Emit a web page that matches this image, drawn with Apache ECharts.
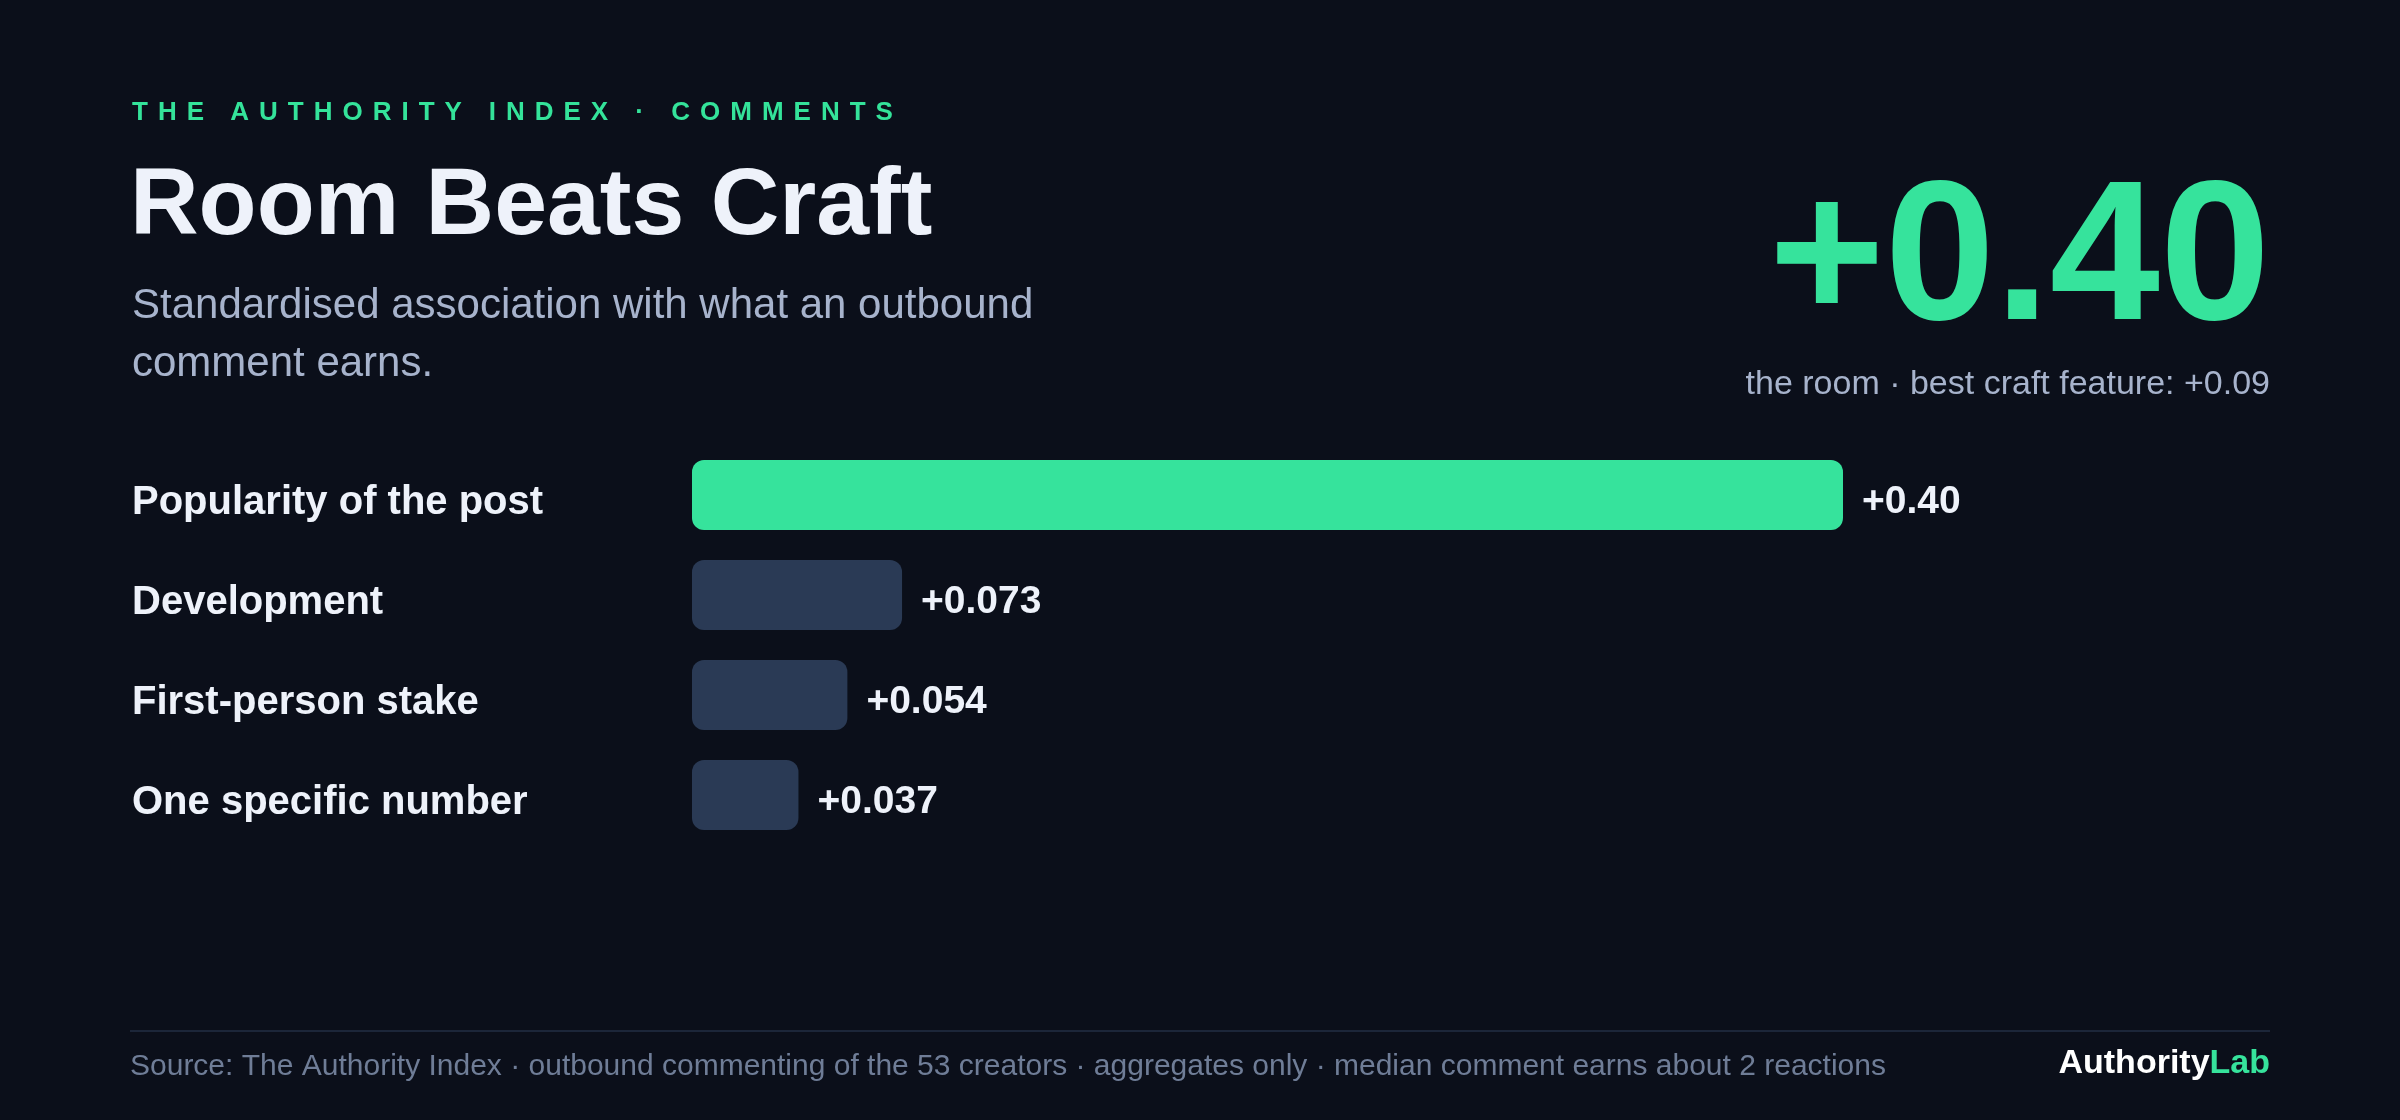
<!DOCTYPE html>
<html>
<head>
<meta charset="utf-8">
<script src="https://cdn.jsdelivr.net/npm/echarts@6/dist/echarts.min.js"></script>
<style>
  html, body { margin: 0; padding: 0; background: #0b0f1a; }
  #wrap { position: relative; width: 2400px; height: 1120px; }
  #chart { position: absolute; left: 0; top: 0; width: 2400px; height: 1120px; }
  #kicker {
    position: absolute; left: 132px; top: 98px;
    font-family: 'Liberation Sans', Arial, Helvetica, sans-serif;
    font-weight: bold; font-size: 26px; line-height: 26px;
    letter-spacing: 10px; color: #34e39a; white-space: nowrap;
  }
</style>
</head>
<body>
<div id="wrap">
  <div id="chart"></div>
  <div id="kicker">THE AUTHORITY INDEX · COMMENTS</div>
</div>
<script>
const categories = ['Popularity of the post', 'Development', 'First-person stake', 'One specific number'];
const values = [0.40, 0.073, 0.054, 0.037];
const valueLabels = ['+0.40', '+0.073', '+0.054', '+0.037'];
const headline = '+0.40';
const headlineNote = 'the room · best craft feature: +0.09';
const titleText = 'Room Beats Craft';
const subtitleLines = ['Standardised association with what an outbound', 'comment earns.'];
const footerText = 'Source: The Authority Index · outbound commenting of the 53 creators · aggregates only · median comment earns about 2 reactions';

const FONT = "'Liberation Sans', Arial, Helvetica, sans-serif";
const GREEN = '#36e39c';
const DARK = '#2a3a55';
const WHITE = '#eef2fa';
const MUTED = '#a7b3cc';

const chart = echarts.init(document.getElementById('chart'), null, { renderer: 'canvas', width: 2400, height: 1120 });

const barData = values.map((v, i) => ({
  value: v,
  itemStyle: { color: i === 0 ? GREEN : DARK }
}));

const option = {
  backgroundColor: '#0b0f1a',
  animation: false,
  grid: { left: 692, top: 445, width: 1151, height: 400, containLabel: false },
  xAxis: {
    type: 'value', min: 0, max: 0.40,
    show: false
  },
  yAxis: {
    type: 'category', data: categories, inverse: true,
    axisLine: { show: false }, axisTick: { show: false }, splitLine: { show: false },
    axisLabel: {
      align: 'left', margin: 560, verticalAlign: 'top', lineHeight: 15,
      color: WHITE, fontFamily: FONT, fontWeight: 'bold', fontSize: 40
    }
  },
  series: [{
    type: 'bar',
    data: barData,
    barWidth: 70,
    itemStyle: { borderRadius: 12 },
    label: {
      show: true, position: 'right', distance: 19, offset: [0, 7],
      color: WHITE, fontFamily: FONT, fontWeight: 'bold', fontSize: 39,
      formatter: p => valueLabels[p.dataIndex]
    }
  }],
  graphic: [
    { type: 'text', x: 130, y: 207.5, style: { text: titleText, fill: WHITE, font: 'bold 95px ' + FONT, textAlign: 'left', textVerticalAlign: 'middle' } },
    { type: 'text', x: 132, y: 306, style: { text: subtitleLines[0], fill: MUTED, font: '42px ' + FONT, textAlign: 'left', textVerticalAlign: 'middle' } },
    { type: 'text', x: 132, y: 364, style: { text: subtitleLines[1], fill: MUTED, font: '42px ' + FONT, textAlign: 'left', textVerticalAlign: 'middle' } },
    { type: 'text', x: 2270, y: 264, style: { text: headline, fill: GREEN, font: 'bold 198px ' + FONT, textAlign: 'right', textVerticalAlign: 'middle' } },
    { type: 'text', x: 2270, y: 385, style: { text: headlineNote, fill: MUTED, font: '34px ' + FONT, textAlign: 'right', textVerticalAlign: 'middle' } },
    { type: 'line', shape: { x1: 130, y1: 1031, x2: 2270, y2: 1031 }, style: { stroke: '#1c2639', lineWidth: 2 } },
    { type: 'text', x: 130, y: 1067, style: { text: footerText, fill: '#6f7d97', font: '30px ' + FONT, textAlign: 'left', textVerticalAlign: 'middle' } },
    { type: 'text', x: 2270, y: 1064, style: {
        text: '{a|Authority}{b|Lab}', textAlign: 'right', textVerticalAlign: 'middle',
        font: 'bold 34px ' + FONT,
        rich: {
          a: { fill: '#ffffff', color: '#ffffff', fontFamily: FONT, fontWeight: 'bold', fontSize: 34 },
          b: { fill: GREEN, color: GREEN, fontFamily: FONT, fontWeight: 'bold', fontSize: 34 }
        }
    } }
  ]
};
chart.setOption(option);
</script>
</body>
</html>
